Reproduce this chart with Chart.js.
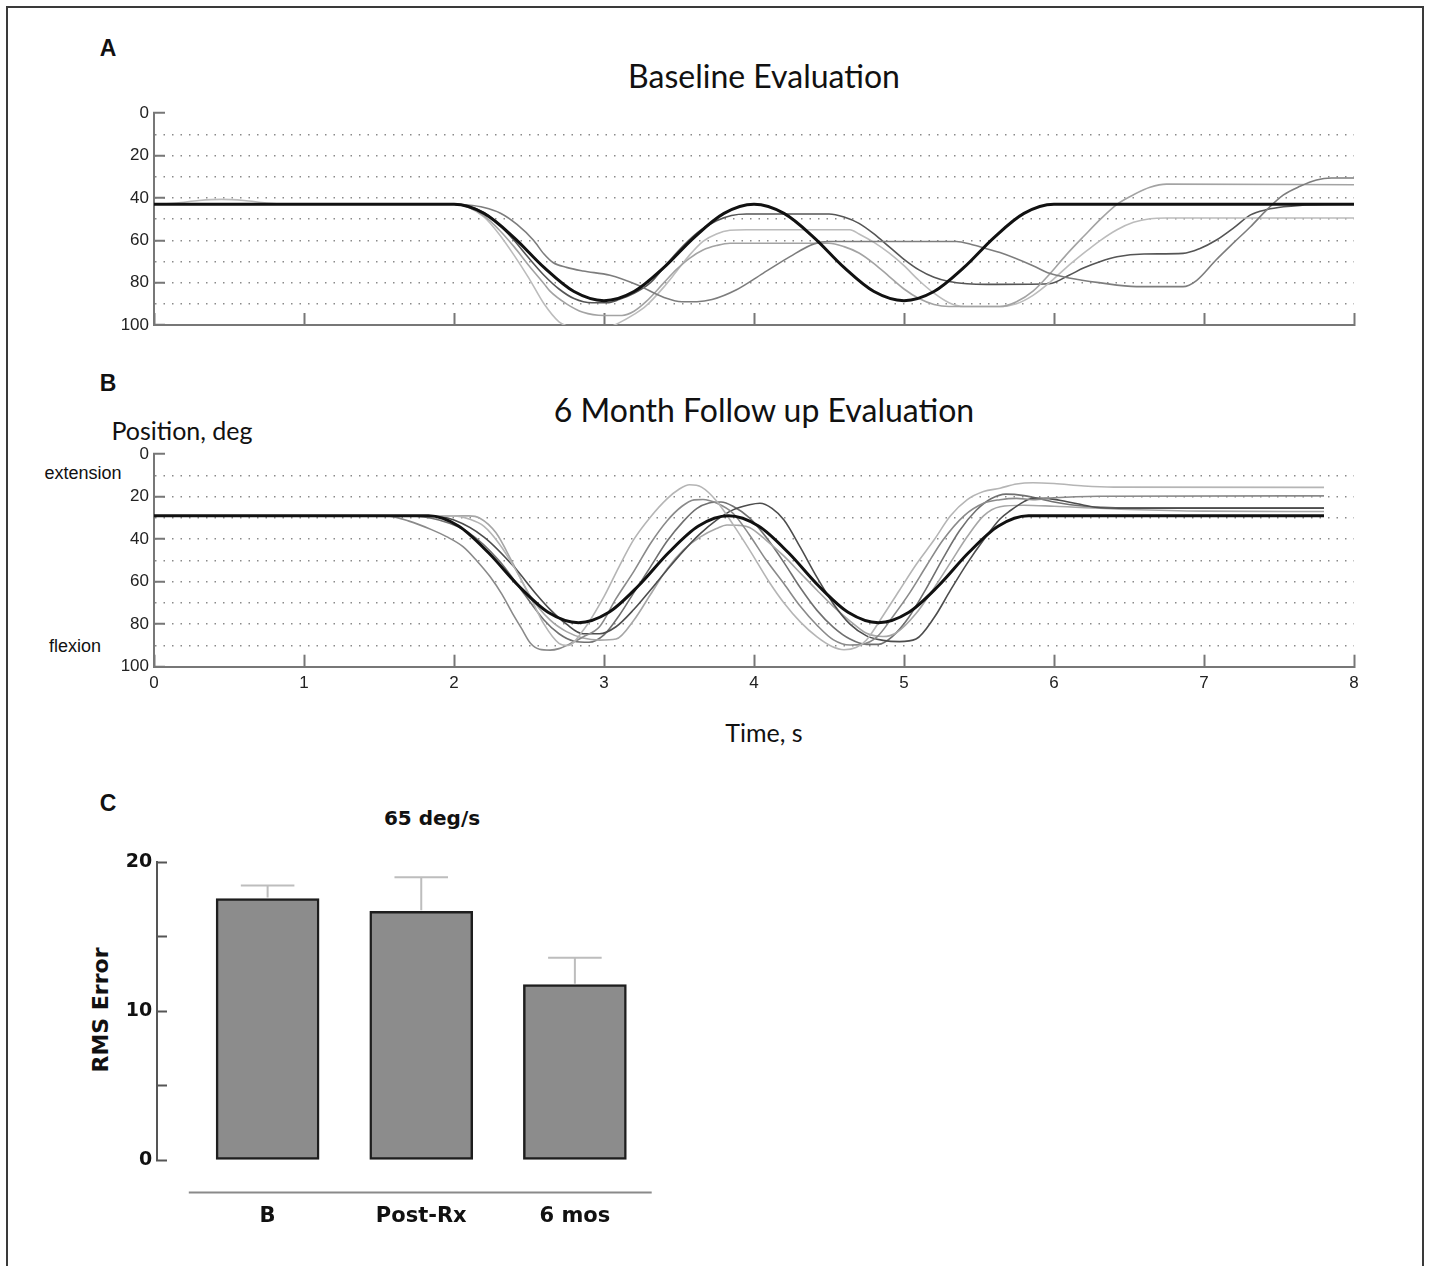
<!DOCTYPE html>
<html>
<head>
<meta charset="utf-8">
<script src="https://cdn.jsdelivr.net/npm/chart.js@4.4.1/dist/chart.umd.min.js"></script>
<style>
  html, body { margin: 0; padding: 0; background: #fff; overflow: hidden; }
  body { width: 1429px; height: 1266px; position: relative; }
  .frame { position: absolute; left: 6px; top: 6px; width: 1414px; height: 1300px;
           border: 2px solid #3a3a3a; border-bottom: none; }
  .t { position: absolute; white-space: nowrap; color: #111; line-height: 1;
       transform: translate(-50%, -50%); }
  .letter { font: bold 23px 'Liberation Sans', sans-serif; }
  .title { font: 32px Lato, sans-serif; }
  .side { font: 18px 'Liberation Sans', sans-serif; }
  .bold { font-family: 'DejaVu Sans', sans-serif; font-weight: bold; }
  canvas { position: absolute; left: 0; }
</style>
</head>
<body>
<div class="frame"></div>

<div class="t letter" style="left:108px;top:48px">A</div>
<div class="t title" style="left:764px;top:75px">Baseline Evaluation</div>
<div class="t letter" style="left:108px;top:383px">B</div>
<div class="t title" style="left:764px;top:409px">6 Month Follow up Evaluation</div>
<div class="t" style="left:182px;top:430px;font:25px Lato,sans-serif">Position, deg</div>
<div class="t side" style="left:83px;top:473px">extension</div>
<div class="t side" style="left:75px;top:646px">flexion</div>
<div class="t" style="left:764px;top:732px;font:25px Lato,sans-serif">Time, s</div>
<div class="t letter" style="left:108px;top:803px">C</div>
<div class="t bold" style="left:432px;top:818px;font-size:20px">65 deg/s</div>
<div class="t bold" style="left:101px;top:1010px;font-size:22px;transform:translate(-50%,-50%) rotate(-90deg)">RMS Error</div>

<canvas id="cA" width="1429" height="268" style="top:87px"></canvas>
<canvas id="cB" width="1429" height="272" style="top:428px"></canvas>
<canvas id="cC" width="700" height="425" style="top:835.6px"></canvas>

<script>
// ---- panel A : baseline, [time s, position deg] ----
const aTarget = [[0,43],[2.0,43],[2.2,47.3],[2.4,58.7],[2.6,72.8],[2.8,84.2],[3.0,88.5],[3.2,84.2],[3.4,72.8],
  [3.6,58.7],[3.8,47.3],[4.0,43],[4.2,47.3],[4.4,58.7],[4.6,72.8],[4.8,84.2],[5.0,88.5],[5.2,84.2],[5.4,72.8],
  [5.6,58.7],[5.8,47.3],[6.0,43],[8.0,43]];
const aTrial1 = [[0,43],[2.0,43],[2.08,43.3],[2.2,44.5],[2.31,47.2],[2.42,52.5],[2.53,60],[2.6,66.5],[2.66,70.5],
  [2.75,72.8],[2.86,74.5],[3.04,76.5],[3.22,81],[3.4,87],[3.52,89],[3.62,89],[3.72,88],[3.88,83.5],[4.06,75.6],
  [4.24,67.7],[4.4,61.7],[4.5,60.6],[5.35,60.6],[5.45,62],[5.55,64],[5.64,65.8],[5.86,72],[5.97,75.6],[6.1,77.8],
  [6.3,80],[6.55,81.9],[6.86,81.9],[6.95,79],[7.08,69.3],[7.2,61],[7.31,53.6],[7.42,45.5],[7.53,38.6],[7.64,34.5],
  [7.75,31.5],[7.85,30.6],[8.0,30.6]];
const aTrial2 = [[0,43],[2.0,43],[2.1,44.5],[2.2,48.5],[2.3,55],[2.4,63],[2.5,72],[2.6,80.5],[2.64,84],[2.75,90],
  [2.86,94],[3.0,95.5],[3.12,95.5],[3.2,93.5],[3.28,89],[3.4,80],[3.48,74],[3.57,68.5],[3.66,64.6],[3.75,62.5],
  [3.84,61.4],[4.5,61.4],[4.6,63],[4.7,66],[4.8,71],[4.9,77],[5.0,83],[5.1,87.5],[5.2,90.3],[5.3,91.3],[5.64,91.3],
  [5.75,89],[5.86,84],[5.97,76],[6.08,67],[6.2,58],[6.31,50],[6.42,43],[6.53,38.5],[6.64,35],[6.75,33.5],[8.0,33.8]];
const aTrial3 = [[0,43],[0.15,42.4],[0.3,41.2],[0.45,40.7],[0.6,41.2],[0.75,42.4],[0.9,43],[2.0,43],[2.1,44.5],
  [2.2,49],[2.3,57],[2.4,67],[2.5,78],[2.6,90],[2.7,98.5],[2.8,101.5],[2.9,103],[3.0,102],[3.1,99],[3.2,95],
  [3.28,91],[3.4,82],[3.48,75],[3.57,67],[3.66,60.5],[3.75,57],[3.84,55.3],[3.95,55],[4.64,55],[4.7,57],[4.8,61],
  [4.9,66],[5.0,72],[5.1,79],[5.2,85],[5.3,89.5],[5.4,91.3],[5.64,91.3],[5.75,90],[5.86,86],[5.97,80],[6.08,73],
  [6.2,66],[6.31,60],[6.42,55],[6.53,51.5],[6.64,49.8],[6.75,49.5],[8.0,49.5]];
const aTrial4 = [[0,43],[2.0,43],[2.1,44],[2.2,47],[2.3,52.5],[2.4,60],[2.5,68.5],[2.6,76.5],[2.7,83],[2.8,87.5],
  [2.92,89.5],[3.02,89.5],[3.1,88],[3.2,85],[3.31,80],[3.42,71],[3.53,62.5],[3.64,55.5],[3.75,50.8],[3.85,48.3],
  [3.95,47.6],[4.5,47.6],[4.6,49],[4.7,52],[4.8,57],[4.9,63],[5.0,69],[5.1,74],[5.2,77.5],[5.3,79.5],[5.42,80.5],
  [5.55,80.8],[5.97,80.5],[6.1,76.5],[6.2,73],[6.31,70],[6.42,67.8],[6.6,66.5],[6.86,66.2],[6.97,64],[7.08,60],
  [7.2,54],[7.31,48],[7.42,45.5],[7.53,44.2],[7.64,43.5],[7.8,43.1],[8.0,43]];

// ---- panel B : 6 month follow up ----
const bTarget = [[0,29],[1.83,29],[2.03,33.8],[2.23,46.4],[2.43,61.9],[2.63,74.5],[2.83,79.3],[3.03,74.5],
  [3.23,61.9],[3.43,46.4],[3.63,33.8],[3.83,29],[4.03,33.8],[4.23,46.4],[4.43,61.9],[4.63,74.5],[4.83,79.3],
  [5.03,74.5],[5.23,61.9],[5.43,46.4],[5.63,33.8],[5.83,29],[7.8,29]];
const bTrial1 = [[0,29],[2.0,29],[2.1,30.5],[2.2,34],[2.3,42],[2.4,53],[2.5,66],[2.6,80],[2.7,89],[2.76,90],
  [2.86,83],[3.0,67],[3.1,53],[3.2,40],[3.31,29.5],[3.42,21],[3.5,16.5],[3.57,14.4],[3.65,15.5],[3.75,22],
  [3.86,33],[3.97,45],[4.1,60],[4.2,70],[4.31,79],[4.42,86],[4.52,90.5],[4.6,92],[4.68,91],[4.75,87.4],[4.86,76],
  [4.97,64],[5.08,52],[5.2,40.4],[5.31,29],[5.42,21.5],[5.53,17.6],[5.64,16],[5.75,14],[5.86,13.4],[6.0,13.8],
  [6.2,15],[6.4,15.5],[7.8,15.6]];
const bTrial2 = [[0,29],[1.55,29],[1.7,31.5],[1.85,35.5],[1.95,38.8],[2.06,43.5],[2.15,50],[2.24,57.6],[2.32,66],
  [2.39,74.9],[2.45,82],[2.51,89],[2.57,91.8],[2.64,92.2],[2.7,91.5],[2.78,89],[2.86,86],[2.97,81.2],[3.08,68],
  [3.2,55],[3.31,42],[3.42,31.4],[3.52,24.5],[3.6,21.5],[3.66,21.3],[3.75,23],[3.86,27.8],[3.97,38],[4.08,49.7],
  [4.2,61],[4.31,71.7],[4.42,80.5],[4.53,87.4],[4.64,89.8],[4.72,89.5],[4.82,86],[4.93,76],[5.04,65],[5.15,52.5],
  [5.26,40.4],[5.4,29],[5.53,23.1],[5.64,21.4],[5.75,20.8],[5.86,21.4],[6.0,20.5],[6.3,19.8],[7.8,19.6]];
const bTrial3 = [[0,29],[1.85,29],[2.0,31],[2.2,39],[2.4,53],[2.55,66],[2.64,73],[2.75,80],[2.86,84.5],[2.97,84.5],
  [3.08,81.2],[3.2,73],[3.31,63.9],[3.42,54.5],[3.53,45.5],[3.64,37.5],[3.75,31],[3.86,26.2],[3.97,23.8],[4.04,23.1],
  [4.12,25.5],[4.2,31],[4.31,44],[4.42,58],[4.53,70.5],[4.64,80],[4.75,85.5],[4.86,87.6],[4.97,88.2],[5.08,87],
  [5.2,77],[5.31,64],[5.42,51.5],[5.53,40.4],[5.64,30.5],[5.71,26.5],[5.8,22.3],[5.86,20.7],[5.95,20.8],[6.08,22.3],
  [6.2,24],[6.31,25.2],[6.5,25.4],[7.8,25.4]];
const bTrial4 = [[0,29],[2.1,29],[2.17,30],[2.28,37],[2.39,51],[2.51,67],[2.64,78],[2.75,83.5],[2.86,86.5],
  [2.97,87.5],[3.08,87],[3.2,78],[3.31,66],[3.42,54],[3.53,45],[3.64,39],[3.75,35],[3.82,33.3],[3.9,33.5],
  [3.97,34.5],[4.08,40.4],[4.2,48],[4.31,56],[4.42,64],[4.53,71.7],[4.64,78.5],[4.75,84.3],[4.86,85.8],[4.95,84],
  [5.08,75],[5.2,63],[5.31,51],[5.42,39],[5.53,29],[5.64,24.7],[5.8,24],[6.0,24.5],[6.5,26],[7.0,26.8],[7.8,27]];
const bTrial5 = [[0,29],[1.7,29],[1.9,31],[2.1,37],[2.3,50],[2.45,64],[2.6,78],[2.7,84.5],[2.8,88],[2.9,88.5],
  [3.0,85],[3.1,76],[3.2,65],[3.31,53],[3.42,41],[3.53,31.5],[3.62,25.5],[3.7,23],[3.78,22.5],[3.86,24.5],[3.97,30],
  [4.08,39],[4.2,51],[4.31,63],[4.42,73.5],[4.53,81.5],[4.64,87],[4.75,89.5],[4.83,89.5],[4.92,86],[5.03,77],
  [5.15,63],[5.26,49],[5.37,36],[5.48,26.5],[5.58,21],[5.68,18.8],[5.8,19.5],[6.0,22.5],[6.2,24.5],[6.5,25.2],[7.8,25.2]];

const posLabels = [0, 20, 40, 60, 80, 100];

// ---- panel C : RMS error at 65 deg/s ----
const groups = ['B', 'Post-Rx', '6 mos'];
const rmsMean = [17.55, 16.7, 11.77];
const rmsErr = [0.88, 2.29, 1.8];
const rmsLabels = [0, 10, 20];

const tickFont = { family: 'Liberation Sans', size: 17 };
const boldFont = { family: 'DejaVu Sans', size: 19, weight: 'bold' };
const NONE = 'rgba(0,0,0,0)';

function lineSets(target, trials, colors) {
  const sets = [{ data: target, borderColor: '#111', borderWidth: 3 }];
  trials.forEach((d, i) => sets.push({ data: d, borderColor: colors[i], borderWidth: 1.6 }));
  return sets.map(s => Object.assign(s, { pointRadius: 0, fill: false, cubicInterpolationMode: 'monotone' }));
}

// top of plot area comes from the y labels' own padding (half label + tick padding)
function posChart(id, target, trials, colors, showX, xHeight) {
  new Chart(document.getElementById(id), {
    type: 'line',
    data: { datasets: lineSets(target, trials, colors) },
    options: {
      responsive: false, animation: false, events: [],
      layout: { padding: { top: 0, right: 75, bottom: 0, left: 0 } },
      plugins: { legend: { display: false }, tooltip: { enabled: false } },
      scales: {
        x: {
          type: 'linear', min: 0, max: 8,
          ticks: { stepSize: 1, display: showX, font: tickFont, color: '#222', padding: 18 },
          grid: { drawOnChartArea: false, tickLength: -12, tickWidth: 2, tickColor: '#777' },
          border: { color: '#777', width: 2 },
          afterFit: s => { s.height = xHeight; }
        },
        y: {
          reverse: true, min: 0, max: 100,
          ticks: { stepSize: 10, autoSkip: false, font: tickFont, color: '#222', padding: 16,
                   callback: v => posLabels.includes(v) ? v : '' },
          grid: {
            color: c => (c.tick && c.tick.value % 100 !== 0) ? '#8a8a8a' : NONE,
            lineWidth: 1.5, tickLength: -11, tickWidth: 2,
            tickColor: c => (c.tick && c.tick.value % 20 === 0) ? '#777' : NONE
          },
          border: { color: '#777', width: 2, dash: [1.5, 7] },
          afterFit: s => { s.width = 154; }
        }
      }
    }
  });
}

posChart('cA', aTarget, [aTrial1, aTrial2, aTrial3, aTrial4],
  ['#7d7d7d', '#a3a3a3', '#bcbcbc', '#555'], false, 30);
posChart('cB', bTarget, [bTrial1, bTrial2, bTrial3, bTrial4, bTrial5],
  ['#b5b5b5', '#8a8a8a', '#4d4d4d', '#a6a6a6', '#707070'], true, 33.3);

// error bars (upper only) on top of each bar
const errBars = {
  id: 'errBars',
  afterDatasetsDraw(chart) {
    const { ctx } = chart;
    const y = chart.scales.y;
    ctx.save();
    ctx.strokeStyle = '#bdbdbd';
    ctx.lineWidth = 2;
    chart.getDatasetMeta(0).data.forEach((bar, i) => {
      const top = y.getPixelForValue(rmsMean[i] + rmsErr[i]);
      const half = bar.width * 0.26;
      ctx.beginPath();
      ctx.moveTo(bar.x, bar.y - 1); ctx.lineTo(bar.x, top);
      ctx.moveTo(bar.x - half, top); ctx.lineTo(bar.x + half, top);
      ctx.stroke();
    });
    ctx.restore();
  }
};

// detached category baseline below the bars (Prism style)
const baseLine = {
  id: 'baseLine',
  afterDraw(chart) {
    const { ctx } = chart;
    const { x, y } = chart.scales;
    const yy = y.getPixelForValue(0) + 32.5;
    ctx.save();
    ctx.strokeStyle = '#8a8a8a';
    ctx.lineWidth = 2;
    ctx.beginPath();
    ctx.moveTo(x.getPixelForValue(-0.5) - 2, yy);
    ctx.lineTo(x.getPixelForValue(groups.length - 0.5), yy);
    ctx.stroke();
    ctx.restore();
  }
};

new Chart(document.getElementById('cC'), {
  type: 'bar',
  data: {
    datasets: [{
      data: groups.map((g, i) => ({ x: i, y: rmsMean[i] })),
      backgroundColor: '#8c8c8c', borderColor: '#1e1e1e', borderWidth: 2.5,
      borderSkipped: false, barThickness: 103
    }]
  },
  options: {
    responsive: false, animation: false, events: [],
    layout: { padding: { top: 0, right: 48.3, bottom: 0, left: 0 } },
    plugins: { legend: { display: false }, tooltip: { enabled: false } },
    scales: {
      x: {
        type: 'linear', min: -0.72, max: 2.5, offset: false,
        afterBuildTicks: s => { s.ticks = groups.map((g, i) => ({ value: i })); },
        ticks: { autoSkip: false, callback: v => groups[v], font: { family: 'DejaVu Sans', size: 21, weight: 'bold' },
                 color: '#111', padding: 44, maxRotation: 0 },
        grid: { display: false, drawTicks: false, offset: false },
        border: { display: false },
        afterFit: s => { s.height = 101; }
      },
      y: {
        min: 0, max: 20,
        ticks: { stepSize: 5, autoSkip: false, font: boldFont, color: '#111', padding: 14.7,
                 callback: v => rmsLabels.includes(v) ? v : '' },
        grid: { drawOnChartArea: false, tickLength: -10, tickWidth: 2, tickColor: '#555' },
        border: { color: '#555', width: 2 },
        afterFit: s => { s.width = 157; }
      }
    }
  },
  plugins: [errBars, baseLine]
});
</script>
</body>
</html>
